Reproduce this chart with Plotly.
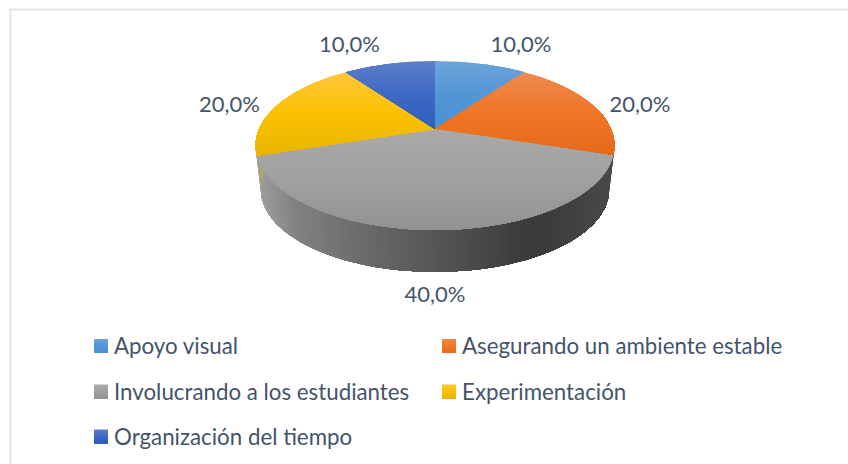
import numpy as np
import plotly.graph_objects as go

categories = ["Apoyo visual", "Asegurando un ambiente estable",
              "Involucrando a los estudiantes", "Experimentación",
              "Organización del tiempo"]
values = [10.0, 20.0, 40.0, 20.0, 10.0]
value_labels = ["10,0%", "20,0%", "40,0%", "20,0%", "10,0%"]

grad = [
    ("#6CA3DA", "#5296D6", "#4A90D2"),
    ("#EE8A4E", "#EF7524", "#E6691A"),
    ("#A9A9A9", "#A0A0A0", "#929292"),
    ("#FFC73A", "#FBC100", "#E8B400"),
    ("#5C7DC9", "#3D68C4", "#2E60BB"),
]
TXT = "#44546A"
W, H = 848, 464
CX, CY0, R, S, K = 435.0, 129.0, 176.0, 81.3, 0.195
WALL_SCALE, WALL_Y = 0.97, 174.0


def hex2(c):
    return np.array([int(c[i:i + 2], 16) for i in (1, 3, 5)], float)


def mix(stops, t):
    a, b = (stops[0], stops[1]) if t < 0.5 else (stops[1], stops[2])
    f = t * 2 if t < 0.5 else (t - 0.5) * 2
    v = hex2(a) * (1 - f) + hex2(b) * f
    return "rgb(%d,%d,%d)" % tuple(v.round())


def proj(theta, scale=1.0, y0=CY0):
    u, v = np.sin(theta), -np.cos(theta)
    d = 1 - K * v
    return CX + scale * R * u / d, y0 + scale * S * v / d


def clip_below(xs, ys, ymin):
    ox, oy = [], []
    n = len(xs)
    for i in range(n):
        x1, y1, x2, y2 = xs[i], ys[i], xs[(i + 1) % n], ys[(i + 1) % n]
        if y1 >= ymin:
            ox.append(x1); oy.append(y1)
        if (y1 >= ymin) != (y2 >= ymin):
            t = (ymin - y1) / (y2 - y1)
            ox.append(x1 + t * (x2 - x1)); oy.append(ymin)
    return ox, oy


def poly(fig, xs, ys, color):
    fig.add_trace(go.Scatter(x=list(xs), y=list(ys), mode="lines", fill="toself",
                             fillcolor=color, line=dict(width=0), hoverinfo="skip",
                             showlegend=False))


fig = go.Figure()
total = sum(values)
edges = np.concatenate([[0], np.cumsum(values)]) / total * 2 * np.pi

# side wall, painted left to right as thin overlapping slices
th_full = np.linspace(np.pi * 1.56, np.pi * 0.44, 160)
stops = [(0.0, 158), (0.1, 130), (0.35, 100), (0.6, 76), (0.72, 62), (0.78, 58), (1.0, 74)]
for i in range(len(th_full) - 1):
    th = th_full[i:]
    xt, yt = proj(th)
    xb, yb = proj(th, WALL_SCALE, WALL_Y)
    f = (float(xb[0]) - 262) / (608 - 262)
    g = np.interp(f, [s[0] for s in stops], [s[1] for s in stops])
    poly(fig, np.r_[xt, xb[::-1]], np.r_[yt, yb[::-1]], "rgb(%d,%d,%d)" % (g, g, g))

# faint sliver of wall where the fourth wedge turns away on the left
th = np.linspace(edges[3], np.pi * 1.56, 30)
xt, yt = proj(th)
xb, yb = proj(th, WALL_SCALE, WALL_Y)
poly(fig, np.r_[xt, xb[::-1]], np.r_[yt, yb[::-1]], "#AFA277")

# top face: one wedge per value, gradient painted top to bottom
for i, (a, b) in enumerate(zip(edges[:-1], edges[1:])):
    th = np.linspace(a, b, 80)
    xs, ys = proj(th)
    xs = list(xs) + [CX]
    ys = list(ys) + [CY0]
    y1, y2 = min(ys), max(ys)
    for yy in np.arange(np.floor(y1), y2, 2.0):
        cx, cy = clip_below(xs, ys, yy)
        if len(cx) >= 3:
            poly(fig, cx, cy, mix(grad[i], (yy - y1) / max(y2 - y1, 1)))

# value labels
lx = [521, 640, 435, 229.5, 349.5]
ly = [46, 106, 296, 106, 46]
fig.add_trace(go.Scatter(x=lx, y=ly, mode="text", text=value_labels,
                         textfont=dict(family="Lato", size=22, color=TXT),
                         textposition="middle center", hoverinfo="skip", showlegend=False))

# legend
leg_x = [94, 442, 94, 442, 94]
leg_y = [346, 346, 391.5, 391.5, 436.5]
shapes = [dict(type="rect", xref="x", yref="y", x0=10.5, x1=W + 20, y0=9.5, y1=H + 20,
               line=dict(color="#E1E5EC", width=2), fillcolor="rgba(0,0,0,0)")]
for i, c in enumerate(categories):
    for j in range(14):
        shapes.append(dict(type="rect", xref="x", yref="y", layer="below",
                           x0=leg_x[i], x1=leg_x[i] + 14, y0=leg_y[i] - 7 + j, y1=leg_y[i] + 7,
                           line=dict(width=0), fillcolor=mix(grad[i], j / 13)))
fig.add_trace(go.Scatter(x=[x + 20 for x in leg_x], y=[y + 2.5 for y in leg_y], mode="text",
                         text=categories,
                         textfont=dict(family="Lato", size=22.3, color=TXT),
                         textposition="middle right", hoverinfo="skip", showlegend=False))

fig.update_layout(width=W, height=H, margin=dict(l=0, r=0, t=0, b=0),
                  paper_bgcolor="white", plot_bgcolor="white", showlegend=False,
                  shapes=shapes,
                  xaxis=dict(range=[0, W], visible=False, fixedrange=True),
                  yaxis=dict(range=[H, 0], visible=False, fixedrange=True))
fig.write_html("out.html", config=dict(displayModeBar=False),
               post_script="document.body.style.margin='0';document.documentElement.style.overflow='hidden';")
